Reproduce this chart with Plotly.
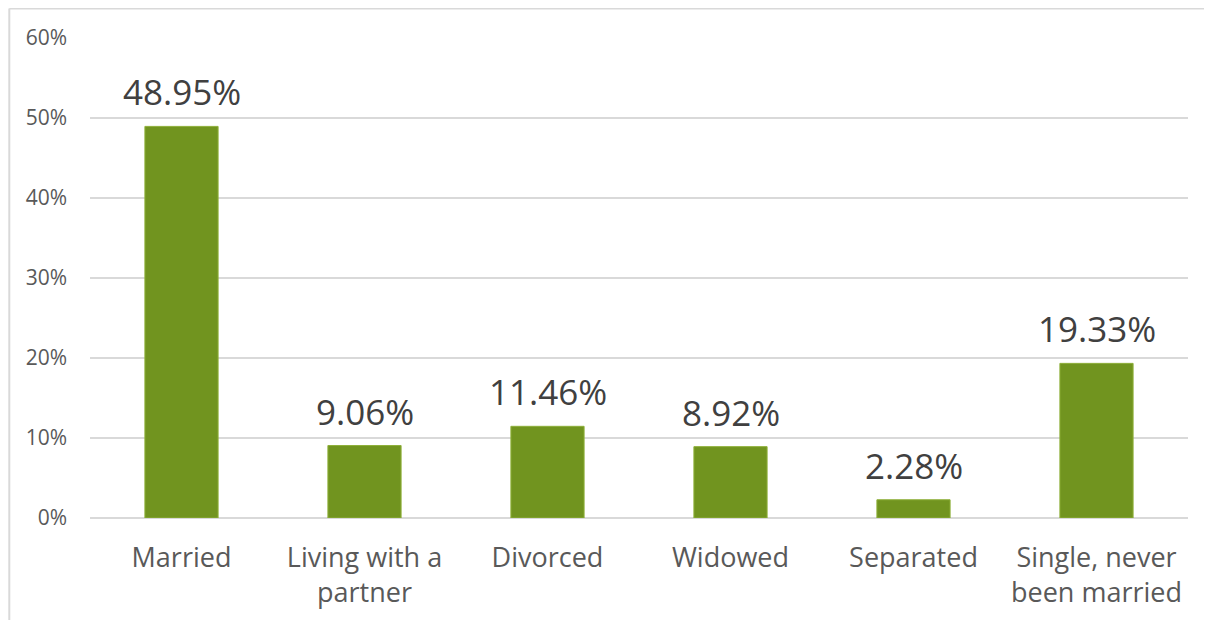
import plotly.graph_objects as go

categories = ["Married", "Living with a<br>partner", "Divorced", "Widowed",
              "Separated", "Single, never<br>been married"]
shares = [0.4895, 0.0906, 0.1146, 0.0892, 0.0228, 0.1933]
tick_vals = [0, 0.1, 0.2, 0.3, 0.4, 0.5, 0.6]

FONT = "Open Sans, Liberation Sans, sans-serif"

fig = go.Figure(
    go.Bar(
        x=categories,
        y=shares,
        width=0.4,
        marker=dict(color="#71941F", line=dict(color="#8FB03A", width=1)),
        hovertemplate="%{x}: %{y:.2%}<extra></extra>",
    )
)

# value labels above the bars
for cat, val in zip(categories, shares):
    fig.add_annotation(
        x=cat, y=val, text=f"{val:.2%}",
        showarrow=False, yanchor="bottom", yshift=9,
        font=dict(family=FONT, size=35, color="#404040"),
    )

# the page body adds an 8px offset, so margins are shifted to compensate
fig.update_layout(
    width=1212,
    height=620,
    margin=dict(l=82, r=32, t=30, b=110),
    paper_bgcolor="white",
    plot_bgcolor="white",
    showlegend=False,
    font=dict(family=FONT, color="#595959"),
    xaxis=dict(
        tickfont=dict(size=27, color="#595959"),
        showgrid=False,
        showline=False,
        ticks="",
        ticklabelstandoff=21,
    ),
    yaxis=dict(
        range=[0, 0.6],
        tickvals=tick_vals,
        tickformat=".0%",
        tickfont=dict(size=21, color="#595959"),
        showgrid=True,
        gridcolor="#D9D9D9",
        gridwidth=1.5,
        zeroline=True,
        zerolinecolor="#D9D9D9",
        zerolinewidth=1.5,
        ticks="",
        ticklabelstandoff=22,
    ),
    shapes=[
        # chart frame (top and left edges visible)
        dict(type="line", xref="paper", yref="paper",
             x0=-0.0735, x1=1.05, y0=1.0615, y1=1.0615,
             line=dict(color="#D9D9D9", width=2)),
        dict(type="line", xref="paper", yref="paper",
             x0=-0.0735, x1=-0.0735, y0=1.0615, y1=-0.25,
             line=dict(color="#D9D9D9", width=2)),
    ],
)

fig.write_html("out.html")
